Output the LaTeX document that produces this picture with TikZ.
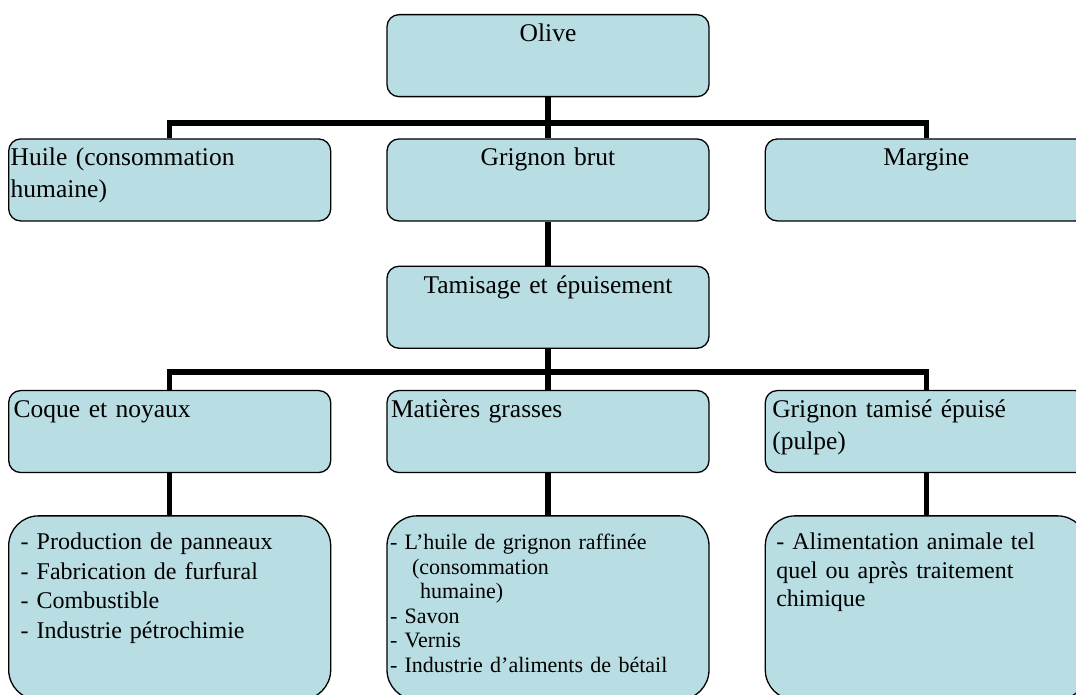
\documentclass[tikz,border=0pt]{standalone}
\usepackage{fontspec}
\setmainfont{Liberation Serif}
\usepackage{xcolor}
\usepackage{tikz}
\usetikzlibrary{positioning}
\definecolor{boxfill}{RGB}{184,221,226}

\begin{document}
\begin{tikzpicture}[
x=1pt, y=-1pt,
node distance=41pt and 55pt,
box/.style={draw, line width=1.3pt, fill=boxfill, rounded corners=12pt, text width=316pt, inner xsep=3pt, inner ysep=3pt, text height=24pt, text depth=52pt, font=\fontsize{25.5}{32}\selectfont},
listbox/.style={box, rounded corners=30pt, text height=31pt, text depth=147pt},
conn/.style={line width=5.5pt}
]
\useasboundingbox (0,0) rectangle (1076,695);
\clip (0,0) rectangle (1076,695);
% first level
\node[box, align=center, anchor=north] (olive) at (548,14) {Olive};
\node[box, align=center, below=41pt of olive] (grignon) {Grignon brut};
\node[box, align=left, inner xsep=2pt, text width=318pt, left=of grignon] (huile) {Huile (consommation\\humaine)};
\node[box, align=center, right=of grignon] (margine) {Margine};
% second level
\node[box, align=center, below=44pt of grignon] (tamis) {Tamisage et épuisement};
\node[box, align=left, inner xsep=4pt, text width=314pt, below=of tamis] (matieres) {Matières grasses};
\node[box, align=left, inner xsep=5pt, text width=312pt, left=of matieres] (coque) {Coque et noyaux};
\node[box, align=left, inner xsep=7pt, text width=308pt, right=of matieres] (pulpe) {Grignon tamisé épuisé\\(pulpe)};
% uses
\node[listbox, align=left, inner xsep=12pt, text width=298pt, font=\fontsize{24}{29.5}\selectfont, below=42pt of coque] (usecoque) {- Production de panneaux\\- Fabrication de furfural\\- Combustible\\- Industrie pétrochimie};
\node[listbox, align=left, inner xsep=3pt, text width=316pt, font=\fontsize{22}{24.5}\selectfont, below=42pt of matieres] (usegras) {- L’huile de grignon raffinée\\\hspace*{22pt}(consommation\\\hspace*{30pt}humaine)\\- Savon\\- Vernis\\- Industrie d’aliments de bétail};
\node[listbox, align=left, inner xsep=11pt, text width=300pt, font=\fontsize{24}{28.5}\selectfont, below=42pt of pulpe] (usepulpe) {- Alimentation animale tel\\quel ou après traitement\\chimique};
% connectors
\coordinate (hub1) at (548,123);
\coordinate (hub2) at (548,372);
\draw[conn] (olive) -- (grignon);
\draw[conn] (huile.north) |- (hub1) -| (margine.north);
\draw[conn] (grignon) -- (tamis);
\draw[conn] (tamis) -- (matieres);
\draw[conn] (coque.north) |- (hub2) -| (pulpe.north);
\draw[conn] (coque) -- (usecoque);
\draw[conn] (matieres) -- (usegras);
\draw[conn] (pulpe) -- (usepulpe);
\end{tikzpicture}
\end{document}
